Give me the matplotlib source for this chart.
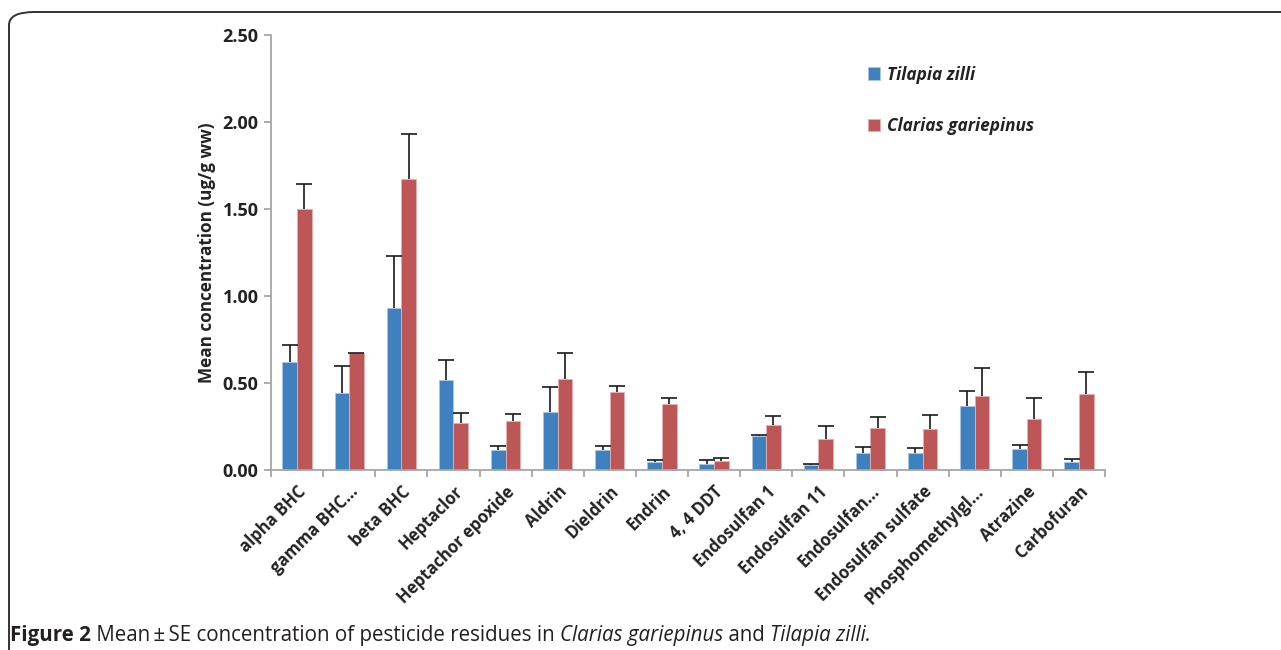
import matplotlib
matplotlib.use("Agg")
import matplotlib.pyplot as plt
from matplotlib.patches import FancyBboxPatch
import numpy as np

categories = ["alpha BHC", "gamma BHC...", "beta BHC", "Heptaclor", "Heptachor epoxide",
              "Aldrin", "Dieldrin", "Endrin", "4, 4 DDT", "Endosulfan 1", "Endosulfan 11",
              "Endosulfan...", "Endosulfan sulfate", "Phosphomethylgl...", "Atrazine", "Carbofuran"]
tilapia = [0.62, 0.44, 0.93, 0.52, 0.113, 0.331, 0.113, 0.048, 0.036, 0.194, 0.029,
           0.100, 0.096, 0.370, 0.119, 0.044]
tilapia_se = [0.10, 0.155, 0.30, 0.11, 0.025, 0.146, 0.023, 0.009, 0.020, 0.009, 0.005,
              0.032, 0.030, 0.084, 0.025, 0.019]
clarias = [1.50, 0.67, 1.67, 0.268, 0.283, 0.521, 0.450, 0.381, 0.052, 0.257, 0.180,
           0.240, 0.234, 0.424, 0.291, 0.439]
clarias_se = [0.145, 0.005, 0.26, 0.058, 0.039, 0.153, 0.033, 0.033, 0.017, 0.055, 0.073,
              0.065, 0.082, 0.160, 0.121, 0.126]
yticks = [0.0, 0.5, 1.0, 1.5, 2.0, 2.5]

FONT = "Open Sans"
plt.rcParams['font.family'] = [FONT, 'DejaVu Sans']

W, H = 1281, 650
fig = plt.figure(figsize=(W / 100, H / 100), dpi=100)

# rounded border (clipped on right and bottom)
border = FancyBboxPatch((9 / W, -0.2), 1.3, (H - 12) / H + 0.2,
                        boxstyle="round,pad=0,rounding_size=0.02",
                        transform=fig.transFigure, fill=False,
                        edgecolor="#333333", linewidth=1.4)
fig.patches.append(border)

ax = fig.add_axes([271 / W, 1 - 470 / H, (1105 - 271) / W, (470 - 35) / H])

blue = "#3f81bf"
red = "#bd5657"
x = np.arange(len(categories))
bw = 0.28
ekw = dict(ecolor="#1a1a1a", elinewidth=1.2, capthick=1.2)
b1 = ax.bar(x - bw / 2, tilapia, width=bw, color=blue, edgecolor="#a9c6e4", linewidth=0.6,
            yerr=[np.zeros(len(x)), tilapia_se], capsize=6, error_kw=ekw, label="Tilapia zilli")
b2 = ax.bar(x + bw / 2, clarias, width=bw, color=red, edgecolor="#e3b0b0", linewidth=0.6,
            yerr=[np.zeros(len(x)), clarias_se], capsize=6, error_kw=ekw, label="Clarias gariepinus")
for bc in (b1, b2):
    caps = bc.errorbar.lines[1]
    caps[0].set_visible(False)

ax.set_xlim(-0.5, len(categories) - 0.5)
ax.set_ylim(0, 2.5)
ax.set_yticks(yticks)
ax.set_yticklabels([f"{v:.2f}" for v in yticks], fontsize=13, fontweight="bold", color="#222222")
ax.set_xticks(np.arange(len(categories) + 1) - 0.5)
ax.set_xticklabels([])
ax.set_xticks(x, minor=True)
ax.set_xticklabels(categories, minor=True, rotation=45, ha="right", va="top",
                   rotation_mode="anchor", fontsize=12, fontweight="bold", color="#222222")
ax.tick_params(axis="x", which="minor", length=0, pad=9)
ax.tick_params(axis="x", which="major", length=5, color="#a6a6a6", width=1.3)
ax.tick_params(axis="y", length=5, color="#a6a6a6", width=1.3, pad=4)
for s in ["top", "right"]:
    ax.spines[s].set_visible(False)
for s in ["left", "bottom"]:
    ax.spines[s].set_color("#a6a6a6")
    ax.spines[s].set_linewidth(1.3)
ax.set_ylabel("Mean concentration (ug/g ww)", fontsize=12.3, fontweight="bold",
              color="#222222", labelpad=5)

leg = ax.legend(loc="upper left", bbox_to_anchor=(852 / W, 1 - 50 / H),
                bbox_transform=fig.transFigure, frameon=False,
                prop=dict(family=FONT, style="italic", weight="bold", size=12.4),
                handlelength=0.7, handleheight=0.7, handletextpad=0.45, labelspacing=1.95)
for t in leg.get_texts():
    t.set_color("#222222")

# caption with mixed styles
renderer = fig.canvas.get_renderer()
pieces = [("Figure 2", "bold", "normal"), (" Mean\u2009\u00b1\u2009SE concentration of pesticide residues in ", "normal", "normal"),
          ("Clarias gariepinus", "normal", "italic"), (" and ", "normal", "normal"),
          ("Tilapia zilli.", "normal", "italic")]
xpos = 10 / W
for txt, wt, st in pieces:
    t = fig.text(xpos, 1 - 641 / H, txt, fontsize=14.8, fontweight=wt, style=st,
                 color="#231f20", ha="left", va="baseline", family=[FONT, 'DejaVu Sans'])
    bb = t.get_window_extent(renderer=renderer)
    xpos = bb.x1 / W

fig.savefig("out.png", dpi=100)
